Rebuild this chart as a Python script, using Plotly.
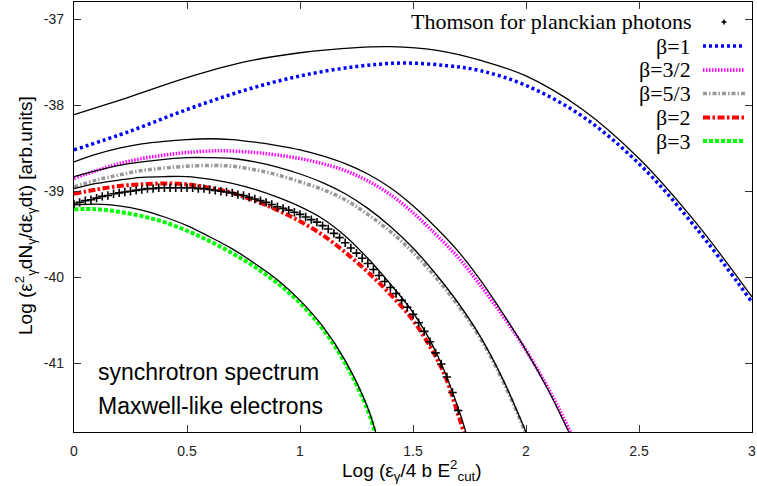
import plotly.graph_objects as go

# ---------------- data ----------------
# beta = 1 (blue) and its black companion
x_b1 = [0, 0.25, 0.5, 0.75, 1.0, 1.25, 1.45, 1.65, 1.8, 2.0, 2.25, 2.5, 2.75, 3.0]
y_b1 = [-38.52, -38.3, -38.05, -37.83, -37.66, -37.55, -37.51, -37.54, -37.6, -37.77, -38.13, -38.68, -39.42, -40.29]
x_k1 = [0, 0.25, 0.5, 0.75, 1.0, 1.25, 1.4, 1.6, 1.8, 2.0, 2.25, 2.5, 2.75, 3.0]
y_k1 = [-38.11, -37.9, -37.68, -37.5, -37.39, -37.33, -37.32, -37.36, -37.48, -37.66, -38.05, -38.62, -39.36, -40.23]

# beta = 3/2 (magenta) and black companion
x_b32 = [0, 0.1, 0.2, 0.3, 0.4, 0.5, 0.65, 0.8, 0.9, 1.0, 1.1, 1.2, 1.3, 1.4, 1.5, 1.6, 1.7, 1.8, 1.9, 2.0, 2.1, 2.2, 2.25]
y_b32 = [-38.85, -38.76, -38.68, -38.62, -38.58, -38.55, -38.53, -38.55, -38.58, -38.62, -38.68, -38.76, -38.88, -39.04, -39.25, -39.5, -39.77, -40.1, -40.46, -40.85, -41.3, -41.82, -42.1]
x_k32 = [0, 0.1, 0.2, 0.3, 0.4, 0.5, 0.6, 0.7, 0.8, 0.9, 1.0, 1.1, 1.2, 1.3, 1.4, 1.5, 1.6, 1.7, 1.8, 1.9, 2.0, 2.1, 2.2, 2.25]
y_k32 = [-38.66, -38.57, -38.5, -38.45, -38.42, -38.4, -38.39, -38.4, -38.43, -38.47, -38.52, -38.59, -38.68, -38.8, -38.96, -39.17, -39.42, -39.7, -40.04, -40.43, -40.85, -41.32, -41.86, -42.15]

# beta = 5/3 (grey) and black companion
x_b53 = [0, 0.1, 0.2, 0.3, 0.4, 0.5, 0.62, 0.7, 0.8, 0.9, 1.0, 1.1, 1.2, 1.3, 1.4, 1.5, 1.6, 1.7, 1.8, 1.9, 2.0, 2.05]
y_b53 = [-38.95, -38.87, -38.81, -38.76, -38.73, -38.71, -38.70, -38.71, -38.75, -38.81, -38.89, -38.98, -39.1, -39.27, -39.47, -39.71, -40.0, -40.33, -40.72, -41.22, -41.82, -42.15]
x_k53 = [0, 0.1, 0.2, 0.3, 0.4, 0.5, 0.6, 0.7, 0.8, 0.9, 1.0, 1.1, 1.2, 1.3, 1.4, 1.5, 1.6, 1.7, 1.8, 1.9, 2.0, 2.05]
y_k53 = [-38.83, -38.76, -38.7, -38.66, -38.63, -38.61, -38.61, -38.62, -38.66, -38.72, -38.8, -38.9, -39.03, -39.2, -39.41, -39.66, -39.96, -40.3, -40.7, -41.2, -41.8, -42.12]

# beta = 2 (red) and black companion
x_b2 = [0, 0.1, 0.2, 0.3, 0.4, 0.5, 0.6, 0.7, 0.8, 0.9, 1.0, 1.1, 1.2, 1.3, 1.4, 1.5, 1.6, 1.65, 1.7, 1.75]
y_b2 = [-39.03, -38.98, -38.94, -38.92, -38.91, -38.92, -38.96, -39.02, -39.11, -39.22, -39.35, -39.51, -39.71, -39.94, -40.2, -40.5, -40.92, -41.2, -41.6, -42.0]
x_k2 = [0, 0.1, 0.2, 0.3, 0.4, 0.5, 0.6, 0.7, 0.8, 0.9, 1.0, 1.1, 1.2, 1.3, 1.4, 1.5, 1.6, 1.7, 1.75]
y_k2 = [-38.97, -38.91, -38.87, -38.84, -38.83, -38.83, -38.86, -38.91, -38.98, -39.07, -39.18, -39.32, -39.52, -39.78, -40.08, -40.41, -40.86, -41.52, -41.95]

# beta = 3 (green) and black companion
x_b3 = [0, 0.1, 0.2, 0.3, 0.4, 0.5, 0.6, 0.7, 0.8, 0.9, 1.0, 1.1, 1.2, 1.3, 1.35]
y_b3 = [-39.21, -39.21, -39.24, -39.29, -39.36, -39.46, -39.58, -39.72, -39.88, -40.07, -40.3, -40.6, -41.0, -41.55, -41.98]
x_k3 = [0, 0.1, 0.2, 0.3, 0.4, 0.5, 0.6, 0.7, 0.8, 0.9, 1.0, 1.1, 1.2, 1.3, 1.35]
y_k3 = [-39.16, -39.15, -39.17, -39.22, -39.3, -39.4, -39.53, -39.67, -39.84, -40.03, -40.27, -40.57, -40.97, -41.52, -41.95]

# Thomson for planckian photons (+ markers)
x_th = [0.000, 0.025, 0.050, 0.075, 0.100, 0.125, 0.150, 0.175, 0.200, 0.225,
        0.250, 0.275, 0.300, 0.325, 0.350, 0.375, 0.400, 0.425, 0.450, 0.475,
        0.500, 0.525, 0.550, 0.575, 0.600, 0.625, 0.650, 0.675, 0.700, 0.725,
        0.750, 0.775, 0.800, 0.825, 0.850, 0.875, 0.900, 0.925, 0.950, 0.975,
        1.000, 1.025, 1.050, 1.075, 1.100, 1.125, 1.150, 1.175, 1.200, 1.225,
        1.250, 1.275, 1.300, 1.325, 1.350, 1.375, 1.400, 1.425, 1.450, 1.475,
        1.500, 1.525, 1.550, 1.575, 1.600, 1.625, 1.650, 1.675, 1.700]
y_th = [-39.15, -39.13, -39.11, -39.10, -39.08, -39.06, -39.05, -39.03, -39.02, -39.01,
        -39.00, -38.99, -38.98, -38.97, -38.97, -38.96, -38.96, -38.96, -38.96, -38.96,
        -38.96, -38.96, -38.97, -38.97, -38.98, -38.99, -39.00, -39.01, -39.02, -39.04,
        -39.05, -39.07, -39.09, -39.11, -39.13, -39.155, -39.18, -39.20, -39.22, -39.245,
        -39.27, -39.30, -39.33, -39.36, -39.40, -39.44, -39.49, -39.54, -39.60, -39.66,
        -39.72, -39.78, -39.84, -39.91, -39.98, -40.05, -40.12, -40.19, -40.27, -40.35,
        -40.43, -40.53, -40.63, -40.75, -40.88, -41.01, -41.16, -41.34, -41.55]

x_tickvals = [0, 0.5, 1, 1.5, 2, 2.5, 3]
x_ticktext = ["0", "0.5", "1", "1.5", "2", "2.5", "3"]
y_tickvals = [-37, -38, -39, -40, -41]
y_ticktext = ["-37", "-38", "-39", "-40", "-41"]

legend_labels = ["Thomson for planckian photons", "\u03b2=1", "\u03b2=3/2", "\u03b2=5/3", "\u03b2=2", "\u03b2=3"]

# ---------------- styles ----------------
BLUE = "#0000ff"
MAG = "#ff00ff"
GREY = "#999999"
RED = "#ff0000"
GREEN = "#00ff00"
styles = {
    "b1": dict(color=BLUE, width=3.5, dash="3px,3px"),
    "b32": dict(color=MAG, width=3.5, dash="1.5px,1.5px"),
    "b53": dict(color=GREY, width=3.5, dash="4px,2px,1.5px,2px"),
    "b2": dict(color=RED, width=4, dash="7px,2.5px,2.5px,2.5px"),
    "b3": dict(color=GREEN, width=4, dash="4px,2px"),
}
BLACK = dict(color="black", width=1.3)

fig = go.Figure()

def add_line(x, y, line):
    fig.add_trace(go.Scatter(x=x, y=y, mode="lines", line=dict(shape="spline", **line),
                             showlegend=False, hoverinfo="skip"))

add_line(x_b1, y_b1, styles["b1"])
add_line(x_b32, y_b32, styles["b32"])
add_line(x_b53, y_b53, styles["b53"])
add_line(x_b2, y_b2, styles["b2"])
add_line(x_b3, y_b3, styles["b3"])
for xx, yy in [(x_k1, y_k1), (x_k32, y_k32), (x_k53, y_k53), (x_k2, y_k2), (x_k3, y_k3)]:
    add_line(xx, yy, BLACK)

fig.add_trace(go.Scatter(x=x_th, y=y_th, mode="markers",
                         marker=dict(symbol="cross-thin", size=6, line=dict(color="black", width=1.6)),
                         showlegend=False, hoverinfo="skip"))

# ---------------- layout helpers (pixel -> paper) ----------------
L, R, T, B = 74, 752, 2, 432
def xp(px):
    return (px - L) / (R - L)
def yp(py):
    return (B - py) / (B - T)

annotations = []
shapes = []
row_y = [22, 46, 70, 93.5, 117.5, 141]
for i, lab in enumerate(legend_labels):
    annotations.append(dict(text=lab, xref="paper", yref="paper", x=xp(693), y=yp(row_y[i]),
                            xanchor="right", yanchor="middle", showarrow=False,
                            font=dict(family="Liberation Serif", size=22, color="black")))
# legend samples
shapes.append(dict(type="line", xref="paper", yref="paper", x0=xp(721.5), x1=xp(726.5),
                   y0=yp(row_y[0]), y1=yp(row_y[0]), line=dict(color="black", width=1.6)))
shapes.append(dict(type="line", xref="paper", yref="paper", x0=xp(724), x1=xp(724),
                   y0=yp(row_y[0] - 2.5), y1=yp(row_y[0] + 2.5), line=dict(color="black", width=1.6)))
for i, key in enumerate(["b1", "b32", "b53", "b2", "b3"]):
    shapes.append(dict(type="line", xref="paper", yref="paper", x0=xp(703), x1=xp(745),
                       y0=yp(row_y[i + 1]), y1=yp(row_y[i + 1]), line=styles[key]))

annotations.append(dict(text="synchrotron spectrum", xref="paper", yref="paper", x=xp(96), y=yp(372),
                        xanchor="left", yanchor="middle", showarrow=False,
                        font=dict(family="Liberation Sans", size=23, color="black")))
annotations.append(dict(text="Maxwell-like electrons", xref="paper", yref="paper", x=xp(96), y=yp(406),
                        xanchor="left", yanchor="middle", showarrow=False,
                        font=dict(family="Liberation Sans", size=23, color="black")))

annotations.append(dict(text="Log (\u03b5<sub>\u03b3</sub>/4 b E<sup>2</sup><sub>cut</sub>)",
                        xref="paper", yref="paper", x=xp(340), y=yp(470),
                        xanchor="left", yanchor="middle", showarrow=False,
                        font=dict(family="Liberation Sans", size=19, color="black")))
annotations.append(dict(text="Log (\u03b5<sup>2</sup><sub>\u03b3</sub>dN<sub>\u03b3</sub>/d\u03b5<sub>\u03b3</sub>dt) [arb.units]",
                        xref="paper", yref="paper", x=xp(26), y=yp(216), textangle=-90,
                        xanchor="center", yanchor="middle", showarrow=False,
                        font=dict(family="Liberation Sans", size=19, color="black")))

axis_common = dict(ticks="inside", ticklen=7, tickwidth=1, tickcolor="#333333",
                   showline=True, linecolor="black", linewidth=1.2, mirror="ticks",
                   showgrid=False, zeroline=False,
                   tickfont=dict(family="Liberation Sans", size=14, color="#222222"))

fig.update_layout(
    width=757, height=486,
    margin=dict(l=L, r=757 - R, t=T, b=486 - B),
    paper_bgcolor="white", plot_bgcolor="white",
    showlegend=False,
    xaxis=dict(range=[0, 3], tickvals=x_tickvals, ticktext=x_ticktext, ticklabelstandoff=6, **axis_common),
    yaxis=dict(range=[-41.8, -36.8], tickvals=y_tickvals, ticktext=y_ticktext, ticklabelstandoff=6, **axis_common),
    annotations=annotations, shapes=shapes,
)

fig.write_html("out.html")
